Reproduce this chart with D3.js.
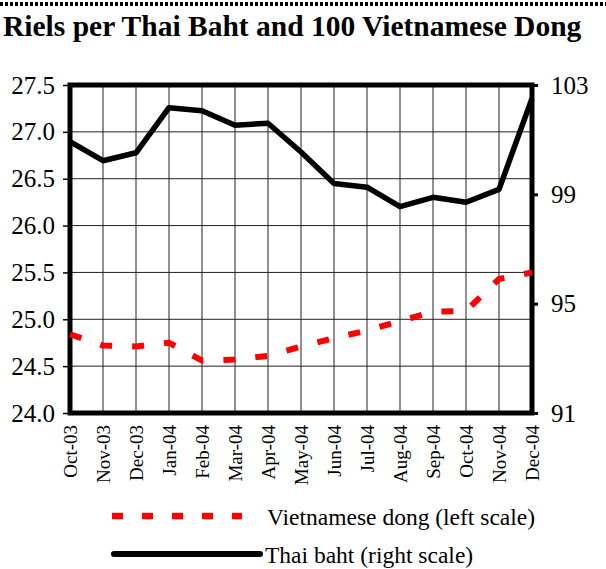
<!DOCTYPE html>
<html><head><meta charset="utf-8">
<script src="https://cdn.jsdelivr.net/npm/d3@7"></script>
<style>body{margin:0;background:#fff}svg{display:block}svg text{font-family:"Liberation Serif","Times New Roman",serif !important;fill:#000}</style>
</head><body>
<svg id="c" width="606" height="569"></svg>
<script>
const months = ["Oct-03","Nov-03","Dec-03","Jan-04","Feb-04","Mar-04","Apr-04","May-04","Jun-04","Jul-04","Aug-04","Sep-04","Oct-04","Nov-04","Dec-04"];
const dongValues = [24.84,24.72,24.71,24.75,24.56,24.57,24.61,24.71,24.80,24.88,24.98,25.08,25.09,25.43,25.50];
const bahtValues = [100.93,100.23,100.52,102.17,102.06,101.53,101.60,100.55,99.40,99.26,98.55,98.89,98.71,99.18,102.51];
const leftTicks = [24.0,24.5,25.0,25.5,26.0,26.5,27.0,27.5];
const rightTicks = [91,95,99,103];
const title = "Riels per Thai Baht and 100 Vietnamese Dong";
const legendLabels = ["Vietnamese dong (left scale)","Thai baht (right scale)"];

const svg = d3.select("#c");
const L=70, R=532, T=85, B=413;
const x = d3.scalePoint().domain(months).range([L,R]);
const yL = d3.scaleLinear().domain([24,27.5]).range([B,T]);
const yR = d3.scaleLinear().domain([91,103]).range([B,T]);

// top dotted rule
svg.append("line").attr("x1",0).attr("x2",606).attr("y1",4).attr("y2",4)
  .attr("stroke","#000").attr("stroke-width",4).attr("stroke-dasharray","3,2");
svg.append("text").attr("x",3).attr("y",36).style("font-size","29.5px").style("font-weight","bold").text(title);

// grid
svg.append("g").selectAll("line").data(months).join("line")
  .attr("x1",d=>x(d)).attr("x2",d=>x(d)).attr("y1",T).attr("y2",B)
  .attr("stroke","#222").attr("stroke-width",1);
svg.append("g").selectAll("line").data(leftTicks).join("line")
  .attr("x1",L).attr("x2",R).attr("y1",d=>yL(d)).attr("y2",d=>yL(d))
  .attr("stroke","#222").attr("stroke-width",1);

// left axis
const la = svg.append("g").attr("transform",`translate(${L},0)`)
  .call(d3.axisLeft(yL).tickValues(leftTicks).tickFormat(d3.format(".1f")).tickSize(7).tickPadding(8));
la.attr("font-family",null).attr("font-size",null);
la.select(".domain").remove();
la.selectAll("line").attr("stroke","#000").attr("stroke-width",1.5);
la.selectAll("text").style("font-size","25px").style("fill","#000");

// right axis
const ra = svg.append("g").attr("transform",`translate(${R},0)`)
  .call(d3.axisRight(yR).tickValues(rightTicks).tickSize(6).tickPadding(13));
ra.attr("font-family",null).attr("font-size",null);
ra.select(".domain").remove();
ra.selectAll("line").attr("stroke","#000").attr("stroke-width",3);
ra.selectAll("text").style("font-size","25px").style("fill","#000");

// frame
svg.append("rect").attr("x",L).attr("y",T).attr("width",R-L).attr("height",B-T)
  .attr("fill","none").attr("stroke","#000").attr("stroke-width",5);

// x labels
svg.append("g").selectAll("text").data(months).join("text")
  .attr("transform",d=>`translate(${x(d)},425) rotate(-90)`)
  .attr("text-anchor","end").attr("dy","0.35em").style("font-size","19px").text(d=>d);

// lines
svg.append("path").datum(bahtValues)
  .attr("d",d3.line().x((d,i)=>x(months[i])).y(d=>yR(d)))
  .attr("fill","none").attr("stroke","#000").attr("stroke-width",5.5).attr("stroke-linejoin","round");
svg.append("path").datum(dongValues)
  .attr("d",d3.line().x((d,i)=>x(months[i])).y(d=>yL(d)))
  .attr("fill","none").attr("stroke","#ff0000").attr("stroke-width",6).attr("stroke-dasharray","12,20");

// legend
svg.append("line").attr("x1",112).attr("x2",242).attr("y1",516).attr("y2",516)
  .attr("stroke","#ff0000").attr("stroke-width",6.5).attr("stroke-dasharray","11,19");
svg.append("text").attr("x",267).attr("y",525).style("font-size","23.5px").text(legendLabels[0]);
svg.append("line").attr("x1",114).attr("x2",260).attr("y1",554).attr("y2",554)
  .attr("stroke","#000").attr("stroke-width",6).attr("stroke-linecap","round");
svg.append("text").attr("x",265).attr("y",563).style("font-size","23.5px").text(legendLabels[1]);
</script>
</body></html>
